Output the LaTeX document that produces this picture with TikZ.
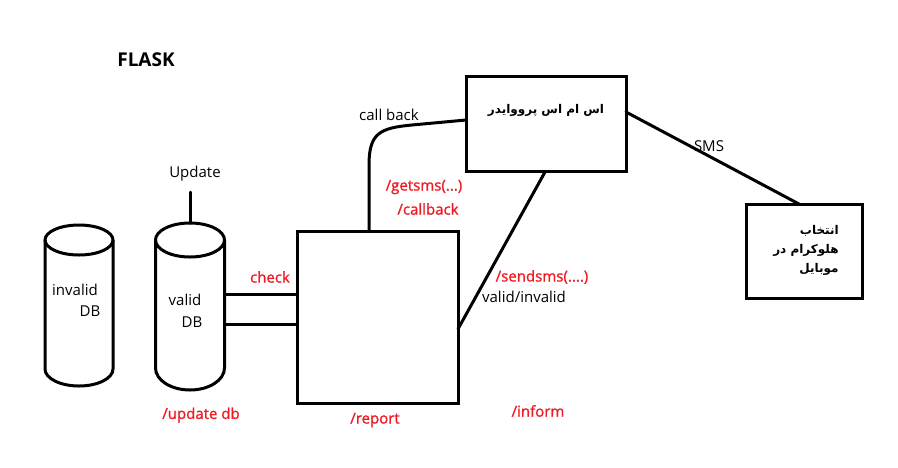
\documentclass[tikz,border=0pt]{standalone}
\usepackage{fontspec}
\setmainfont{Open Sans}
\newfontfamily\semib[FakeBold=1.2]{Open Sans}
\newfontfamily\arabicfont[Script=Arabic]{DejaVu Sans}
\TeXXeTstate=1
\definecolor{pred}{RGB}{237,28,36}
\tikzset{
  ln/.style={line width=3pt, line cap=round, line join=round},
  boxn/.style={draw, line width=3pt, inner sep=0pt},
  lbl/.style={font=\fontsize{15}{17}\selectfont, inner sep=0pt},
  rlbl/.style={lbl, text=pred, font=\semib\fontsize{15}{17}\selectfont},
  fa/.style={font=\arabicfont\bfseries\fontsize{12}{19}\selectfont, inner sep=0pt, align=right}
}
\begin{document}
\begin{tikzpicture}[x=1pt,y=-1pt]
\useasboundingbox (0,0) rectangle (898,467);
% boxes
\node[boxn, minimum width=161pt, minimum height=172pt] (main) at (377.5,317) {};
\node[boxn, minimum width=160pt, minimum height=95pt] (prov) at (546,123.5) {};
\node[boxn, minimum width=116pt, minimum height=94pt] (mob) at (804,251) {};
\node[fa] (provt) at (546,110) {\beginR اس ام اس پرووایدر\endR};
\node[fa] (mobt) at (806,250) {\beginR انتخاب\endR\\\beginR هلوکرام در\endR\\\beginR موبایل\endR};
% cylinders
\draw[ln] (79,240) ellipse [x radius=34, y radius=15];
\draw[ln] (45,240) -- (45,369) arc[start angle=180, end angle=360, x radius=34, y radius=-17] -- (113,240);
\draw[ln] (190,240) ellipse [x radius=34.5, y radius=17];
\draw[ln] (155.5,240) -- (155.5,368) arc[start angle=180, end angle=360, x radius=34.5, y radius=-22] -- (224.5,240);
\coordinate (vtop) at (190,223);
\coordinate (upd) at (190,192);
\coordinate (vr1) at (224.5,294);
\coordinate (vr2) at (224.5,324);
% connectors
\draw[ln] (vtop) -- (upd);
\draw[ln] (vr1) -- (vr1 -| main.west);
\draw[ln] (vr2) -- (vr2 -| main.west);
\coordinate (cbs) at (369,231);
\coordinate (cbe) at (466,120);
\draw[ln] (cbs) -- (369,165) .. controls (369,133) and (380,128) .. (412,125) -- (cbe);
\coordinate (sms1) at (545,172);
\coordinate (sms2) at (458,329);
\draw[ln] (sms1) -- (sms2);
\coordinate (pr) at (626,112);
\coordinate (mt) at (799,204);
\draw[ln] (pr) -- (mt);
% labels
\node[lbl, font=\fontsize{19}{21}\selectfont\bfseries] (flask) at (146,60) {FLASK};
\node[lbl] (updt) at (195,174) {Update};
\node[lbl] (cb) at (389,115) {call back};
\node[rlbl] (gs) at (424,187) {/getsms(...)};
\node[rlbl] (cbk) at (428,209) {/callback};
\node[rlbl] (chk) at (270,277) {check};
\node[rlbl] (ss) at (542,277) {/sendsms(....)};
\node[lbl] (vi) at (524,297) {valid/invalid};
\node[rlbl] (ud) at (201,415) {/update db};
\node[rlbl] (rep) at (375,420) {/report};
\node[rlbl] (inf) at (538,411) {/inform};
\node[lbl] (sms) at (709,146) {SMS};
\node[lbl] (inv) at (75,290) {invalid};
\node[lbl] (db1) at (90,311) {DB};
\node[lbl] (val) at (185,300) {valid};
\node[lbl] (db2) at (192,322) {DB};
\end{tikzpicture}
\end{document}
